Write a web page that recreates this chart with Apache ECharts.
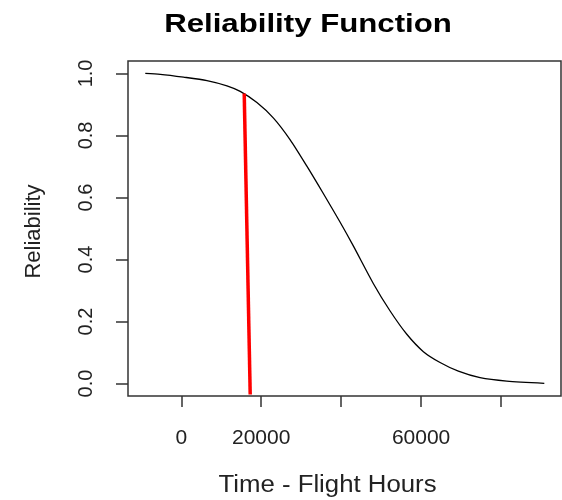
<!DOCTYPE html>
<html>
<head>
<meta charset="utf-8">
<script src="https://cdn.jsdelivr.net/npm/echarts@6/dist/echarts.min.js"></script>
<style>html,body{margin:0;padding:0;background:#fff;}#c{width:562px;height:500px;}</style>
</head>
<body>
<div id="c"></div>
<script>
// Data
var timeHours = [-9000, -5250, 575, 6425, 11425, 14750, 18925, 23075, 27250, 31425, 35575, 39750, 43075, 48075, 52250, 56425, 60575, 64750, 69325, 74750, 81425, 90825];
var reliability = [1.0, 0.997, 0.988, 0.977, 0.960, 0.942, 0.906, 0.856, 0.786, 0.701, 0.612, 0.520, 0.443, 0.322, 0.234, 0.159, 0.103, 0.068, 0.040, 0.019, 0.008, 0.001];
var markerTime = [15750, 17250];
var markerRel = [0.935, -0.035];
var xTicks = [0, 20000, 40000, 60000, 80000];
var xLabels = [0, 20000, 60000];
var yTicks = [0, 0.2, 0.4, 0.6, 0.8, 1.0];
var titleText = 'Reliability Function';
var xTitle = 'Time - Flight Hours';
var yTitle = 'Reliability';

var curve = timeHours.map(function (t, i) { return [t, reliability[i]]; });
var marker = markerTime.map(function (t, i) { return [t, markerRel[i]]; });

var chart = echarts.init(document.getElementById('c'), null, {renderer: 'canvas'});
var font = '"Liberation Sans", Arial, sans-serif';
chart.setOption({
  animation: false,
  backgroundColor: '#fff',
  grid: {left: 128, right: 1, top: 61, bottom: 104, show: true, borderColor: '#333', borderWidth: 1.5, backgroundColor: 'transparent'},
  xAxis: {
    type: 'value', min: -13325, max: 95000,
    axisLine: {show: false, onZero: false},
    splitLine: {show: false},
    axisTick: {show: true, inside: false, length: 11, customValues: xTicks, lineStyle: {color: '#333', width: 1.5}},
    axisLabel: {customValues: xLabels, margin: 32, color: '#222', fontFamily: font, fontSize: 21, formatter: function (v) { return String(v); }}
  },
  yAxis: {
    type: 'value', min: -0.04, max: 1.04,
    axisLine: {show: false, onZero: false},
    splitLine: {show: false},
    axisTick: {show: true, inside: false, length: 12, customValues: yTicks, lineStyle: {color: '#333', width: 1.5}},
    axisLabel: {customValues: yTicks, rotate: 90, margin: 32, color: '#222', fontFamily: font, fontSize: 20, formatter: function (v) { return v.toFixed(1); }}
  },
  series: [
    {type: 'line', data: curve, smooth: 0.25, showSymbol: false, lineStyle: {color: '#000', width: 1.3}, z: 2},
    {type: 'line', data: marker, showSymbol: false, lineStyle: {color: '#ff0000', width: 3.5}, z: 3}
  ],
  graphic: [
    {type: 'text', x: 308, y: 25, scaleX: 1.2, style: {text: titleText, font: 'bold 26px ' + font, fill: '#000', textAlign: 'center', textVerticalAlign: 'middle'}},
    {type: 'text', x: 327.5, y: 486, scaleX: 1.12, style: {text: xTitle, font: '23px ' + font, fill: '#222', textAlign: 'center', textVerticalAlign: 'middle'}},
    {type: 'text', x: 34, y: 231.5, rotation: Math.PI / 2, style: {text: yTitle, font: '22px ' + font, fill: '#222', textAlign: 'center', textVerticalAlign: 'middle'}}
  ]
});
</script>
</body>
</html>
